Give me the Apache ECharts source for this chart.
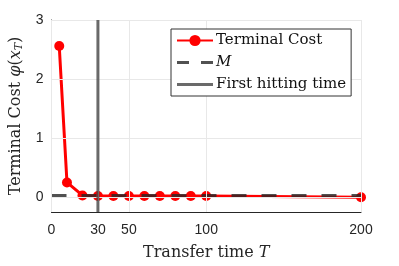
<!DOCTYPE html>
<html><head><meta charset="utf-8">
<script src="https://cdn.jsdelivr.net/npm/echarts@6/dist/echarts.min.js"></script>
<style>html,body{margin:0;padding:0;background:#fff}#c{width:399px;height:266px}</style>
</head><body><div id="c"></div>
<script>
var transferT = [5, 10, 20, 30, 40, 50, 60, 70, 80, 90, 100, 200];
var terminalCost = [2.56, 0.25, 0.03, 0.02, 0.02, 0.02, 0.02, 0.02, 0.02, 0.02, 0.02, 0.0];
var mValue = 0.03;
var hittingTime = 30;
var xTicks = [0, 30, 50, 100, 200];
var yTicks = [0, 1, 2, 3];
var xRange = [0, 200];
var yRange = [-0.25, 3];

var chart = echarts.init(document.getElementById('c'), null, {renderer: 'canvas'});
var axisColor = '#262626';
var gridColor = '#e8e8e8';
var serif = '"DejaVu Serif",serif';
var sans = '"Liberation Sans",Arial,sans-serif';

var gridLines = [];
xTicks.forEach(function (v) { gridLines.push({xAxis: v}); });
yTicks.forEach(function (v) { gridLines.push({yAxis: v}); });

var anchor = 'M0,0h0.05v0.05h-0.05z M35.95,13.95h0.05v0.05h-0.05z ';
var dashIcon = 'path://' + anchor + 'M0,5.5h12v3h-12z M24,5.5h12v3h-12z';
var solidIcon = 'path://' + anchor + 'M0,5.5h36v3h-36z';

chart.setOption({
  animation: false,
  grid: {left: 51.5, right: 38, top: 20, bottom: 52, containLabel: false},
  legend: {
    left: 171, top: 29, z: 20,
    orient: 'vertical',
    backgroundColor: '#fff',
    borderColor: '#333', borderWidth: 1, borderRadius: 0,
    padding: [4, 5, 4, 5],
    itemWidth: 36, itemHeight: 14, itemGap: 7,
    textStyle: {fontFamily: serif, fontSize: 15, color: '#111', padding: [0, 0, 0, -2],
      rich: {i: {fontFamily: serif, fontStyle: 'italic', fontSize: 15, color: '#111'}}},
    formatter: function (n) { return n === 'M' ? '{i|M}' : n; },
    data: [
      {name: 'Terminal Cost'},
      {name: 'M', icon: dashIcon},
      {name: 'First hitting time', icon: solidIcon}
    ]
  },
  xAxis: {
    type: 'value', min: xRange[0], max: xRange[1],
    name: '{a|Transfer time }{i|T}', nameLocation: 'middle', nameGap: 33,
    nameTextStyle: {rich: {a: {fontFamily: serif, fontSize: 16, color: '#262626'}, i: {fontFamily: serif, fontStyle: 'italic', fontSize: 16, color: '#262626'}}},
    axisLine: {show: true, onZero: false, lineStyle: {color: axisColor, width: 1}},
    axisTick: {show: true, inside: true, length: 3, customValues: xTicks, lineStyle: {color: axisColor}},
    axisLabel: {customValues: xTicks, fontFamily: sans, fontSize: 14, color: axisColor, margin: 11},
    splitLine: {show: false}
  },
  yAxis: {
    type: 'value', min: yRange[0], max: yRange[1],
    name: '{a|Terminal Cost }{i|φ}{a|(}{i|x}{s|T}{a|)}', nameLocation: 'middle', nameGap: 25, nameRotate: 90,
    nameTextStyle: {rich: {
      a: {fontFamily: serif, fontSize: 16, color: '#262626'},
      i: {fontFamily: serif, fontStyle: 'italic', fontSize: 16, color: '#262626'},
      s: {fontFamily: serif, fontStyle: 'italic', fontSize: 11, color: '#262626', verticalAlign: 'bottom', padding: [6, 0, 0, 0]}
    }},
    axisLine: {show: true, onZero: false, lineStyle: {color: axisColor, width: 1}},
    axisTick: {show: true, inside: true, length: 3, customValues: yTicks, lineStyle: {color: axisColor}},
    axisLabel: {customValues: yTicks, fontFamily: sans, fontSize: 14, color: axisColor, margin: 8},
    splitLine: {show: false}
  },
  series: [
    {
      name: 'grid', type: 'line', data: [], silent: true, z: 1,
      markLine: {silent: true, symbol: 'none', label: {show: false},
        lineStyle: {color: gridColor, type: 'solid', width: 1}, data: gridLines}
    },
    {
      name: 'Terminal Cost', type: 'line', z: 3,
      data: transferT.map(function (t, i) { return [t, terminalCost[i]]; }),
      symbol: 'circle', symbolSize: 10,
      lineStyle: {color: '#ff0000', width: 3},
      itemStyle: {color: '#ff0000'}
    },
    {
      name: 'M', type: 'line', z: 4, symbol: 'none',
      data: [[xRange[0], mValue], [xRange[1], mValue]],
      lineStyle: {color: 'rgba(38,38,38,0.8)', width: 3, type: [15, 15]},
      itemStyle: {color: 'rgba(50,50,50,0.85)'}
    },
    {
      name: 'First hitting time', type: 'line', z: 5, symbol: 'none',
      data: [[hittingTime, yRange[0]], [hittingTime, yRange[1]]],
      lineStyle: {color: 'rgba(70,70,70,0.8)', width: 3},
      itemStyle: {color: 'rgba(90,90,90,0.9)'}
    }
  ]
});
</script></body></html>
